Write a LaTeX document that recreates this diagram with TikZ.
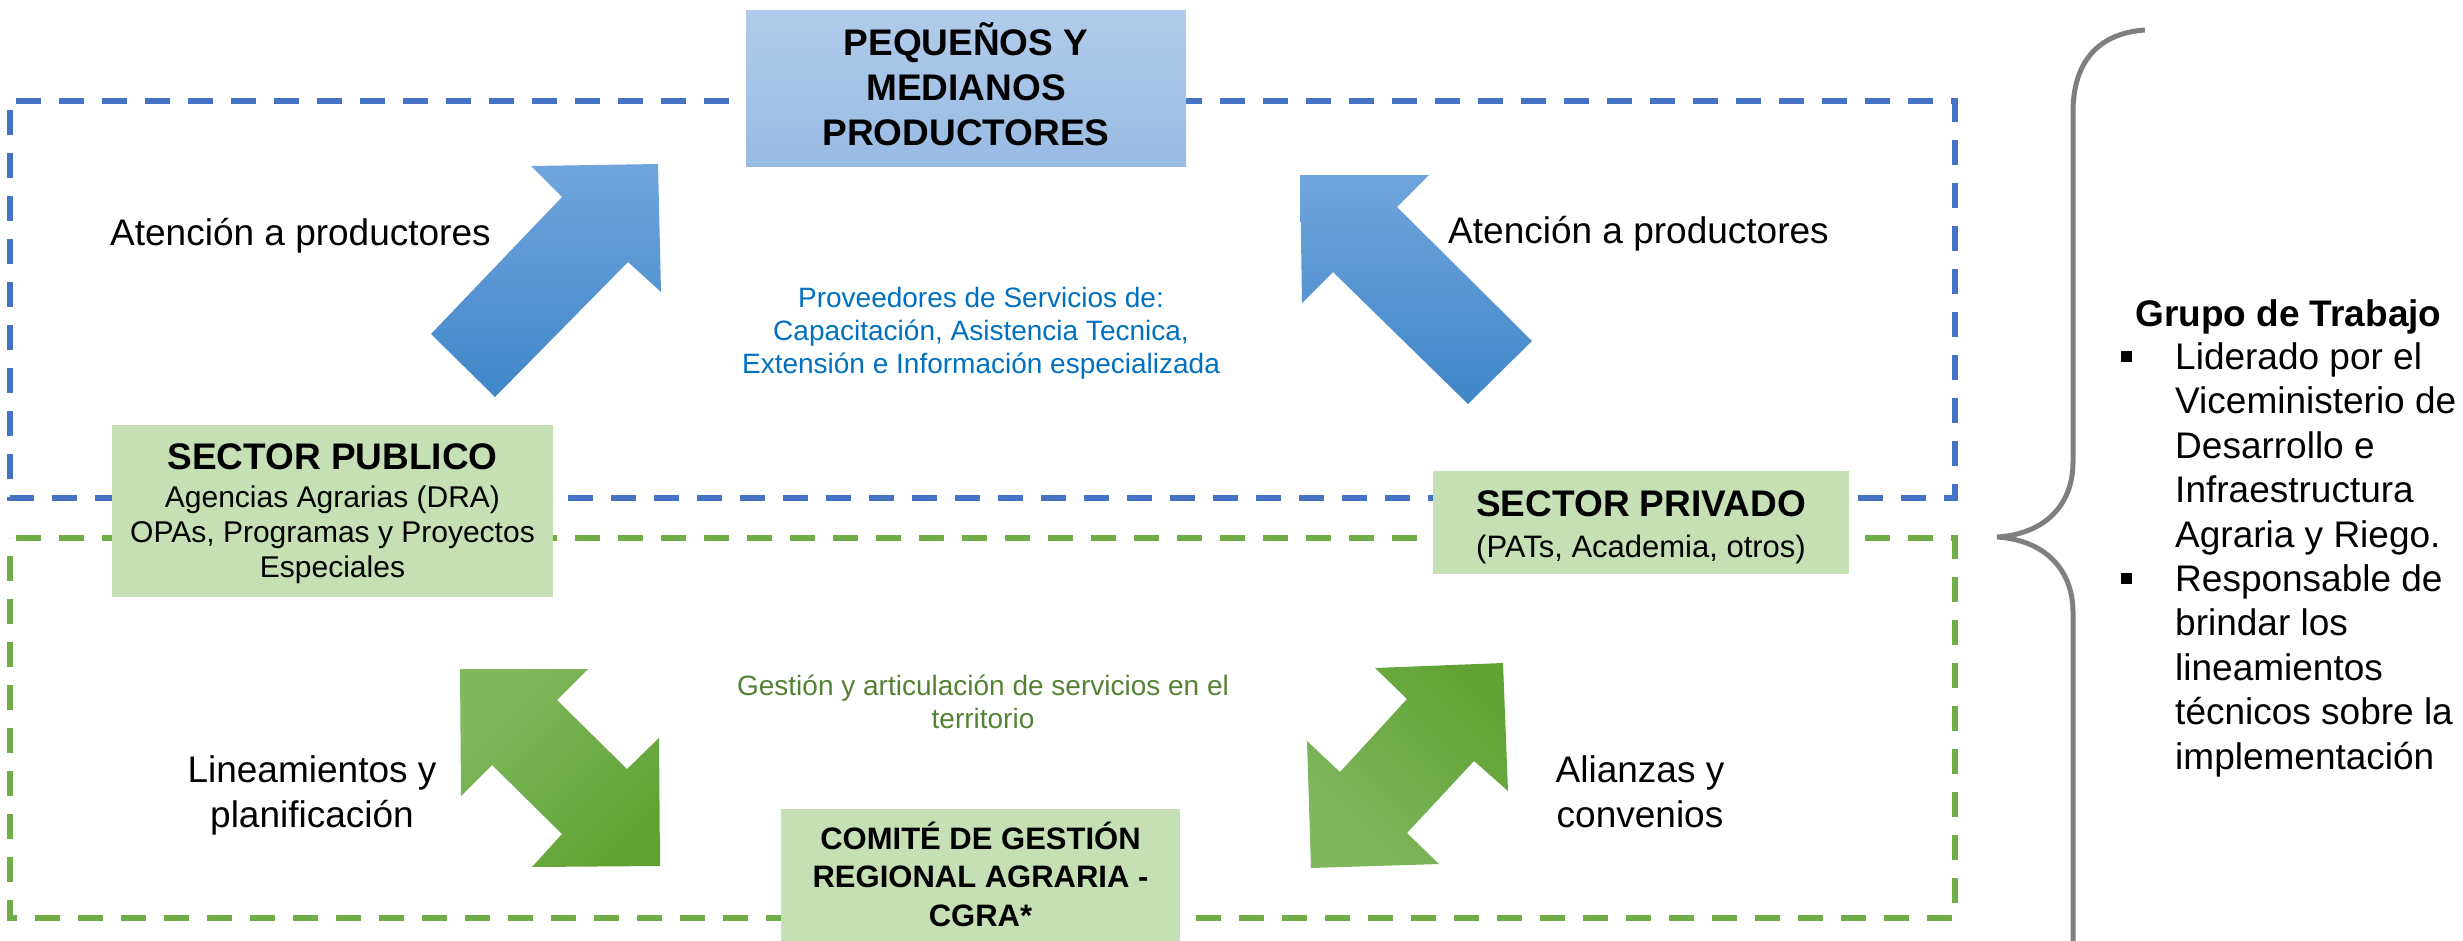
\documentclass[tikz,border=0pt]{standalone}
\usepackage{fontspec}
\setmainfont{Liberation Sans}
\definecolor{blueline}{HTML}{4472C4}
\definecolor{greenline}{HTML}{70AD47}
\definecolor{boxgreen}{HTML}{C5E0B4}
\definecolor{prodtop}{RGB}{178,203,234}
\definecolor{prodbot}{RGB}{152,187,228}
\definecolor{batop}{RGB}{111,165,220}
\definecolor{babot}{RGB}{64,134,200}
\definecolor{galight}{RGB}{128,184,96}
\definecolor{gadark}{RGB}{96,163,52}
\definecolor{bluetext}{HTML}{0070C0}
\definecolor{greentext}{HTML}{548235}
\definecolor{bracegray}{HTML}{7F7F7F}
\begin{document}
\begin{tikzpicture}[x=1pt,y=-1pt,
  dashline/.style={line width=6pt, dash pattern=on 25pt off 18pt, dash phase=37pt},
  boxg/.style={fill=boxgreen, draw=none, inner sep=0pt},
  big/.style={font=\fontsize{37}{44.5}\selectfont, inner sep=0pt, align=center, anchor=base},
  bigb/.style={font=\bfseries\fontsize{37}{45}\selectfont, inner sep=0pt, align=center, anchor=base},
  mid/.style={font=\fontsize{30}{35}\selectfont, inner sep=0pt, align=center, anchor=base},
  small/.style={font=\fontsize{28}{33}\selectfont, inner sep=0pt, align=center, anchor=base},
  cgrat/.style={font=\bfseries\fontsize{31}{38.5}\selectfont, inner sep=0pt, align=center, anchor=base},
  bluearrow/.style={top color=batop, bottom color=babot, draw=none},
  bulletsq/.style={fill=black, minimum size=11pt, inner sep=0pt}
]
\useasboundingbox (0,0) rectangle (2463,940);

% dashed frames
\draw[dashline, blueline] (10,101) -- (1955,101) -- (1955,498) -- (10,498) -- cycle;
\draw[dashline, greenline] (10,538) -- (1955,538) -- (1955,918) -- (10,918) -- cycle;

% boxes
\node[shade, top color=prodtop, bottom color=prodbot, draw=none, inner sep=0pt,
      minimum width=440pt, minimum height=156pt] (prod) at (966,88) {};
\node[boxg, minimum width=441pt, minimum height=172pt] (pub) at (332.5,511) {};
\node[boxg, minimum width=416pt, minimum height=103pt] (priv) at (1641,522.5) {};
\node[boxg, minimum width=399pt, minimum height=136pt] (cgra) at (980.5,877) {};

% box texts (multi-line nodes: base anchor = last line baseline)
\node[bigb] (prodtxt) at (966,145) {PEQUEÑOS Y\\MEDIANOS\\PRODUCTORES};
\node[bigb] (pubtitle) at (332.5,469) {SECTOR PUBLICO};
\node[mid] (pubtxt) at (332.5,577) {Agencias Agrarias (DRA)\\OPAs, Programas y Proyectos\\Especiales};
\node[bigb] (privtitle) at (1641,516) {SECTOR PRIVADO};
\node[font=\fontsize{31}{35}\selectfont, inner sep=0pt, anchor=base] (privtxt) at (1641,557) {(PATs, Academia, otros)};
\node[cgrat] (cgratxt) at (980.5,926) {COMITÉ DE GESTIÓN\\REGIONAL AGRARIA -\\CGRA*};

% block arrows
\shade[bluearrow] (431,334) -- (562,197) -- (531,166) -- (658,164) -- (661,292) -- (628,262) -- (495,397) -- cycle;
\shade[bluearrow] (1300,175) -- (1429,175) -- (1397,207) -- (1532,341) -- (1468,404) -- (1333,272) -- (1302,303) -- cycle;
\shade[top color=galight, bottom color=gadark, shading angle=45, draw=none]
  (460,669) -- (588,669) -- (557,700) -- (627,769) -- (659,738) -- (660,866) -- (532,867) -- (562,834) -- (492,765) -- (461,796) -- cycle;
\shade[top color=gadark, bottom color=galight, shading angle=-45, draw=none]
  (1503,663) -- (1508,791) -- (1474,761) -- (1407,833) -- (1439,864) -- (1311,868) -- (1307,741) -- (1340,772) -- (1407,699) -- (1375,668) -- cycle;

% labels
\node[big, anchor=base west] (at1) at (110,245) {Atención a productores};
\node[big, anchor=base west] (at2) at (1448,243) {Atención a productores};
\node[small, text=bluetext] (prov) at (981,373) {Proveedores de Servicios de:\\Capacitación, Asistencia Tecnica,\\Extensión e Información especializada};
\node[small, text=greentext] (gest) at (983,728) {Gestión y articulación de servicios en el\\territorio};
\node[big] (lin) at (312,827) {Lineamientos y\\planificación};
\node[big] (ali) at (1640,827) {Alianzas y\\convenios};

% brace
\draw[bracegray, line width=5pt]
  (2145,30) .. controls (2100,33) and (2073,60) .. (2073,112)
  -- (2073,462) .. controls (2073,505) and (2045,534) .. (1997,537)
  .. controls (2045,540) and (2073,570) .. (2073,612) -- (2073,945);

% right text
\node[font=\bfseries\fontsize{37}{44.5}\selectfont, inner sep=0pt, anchor=base west] (grupo) at (2135,326) {Grupo de Trabajo};
\node[font=\fontsize{37}{44.4}\selectfont, inner sep=0pt, anchor=base west, align=left] (items) at (2175,769)
  {Liderado por el\\Viceministerio de\\Desarrollo e\\Infraestructura\\Agraria y Riego.\\Responsable de\\brindar los\\lineamientos\\técnicos sobre la\\implementación};
\node[bulletsq] (b1) at (2126,356) {};
\node[bulletsq] (b2) at (2126,578) {};
\end{tikzpicture}
\end{document}
